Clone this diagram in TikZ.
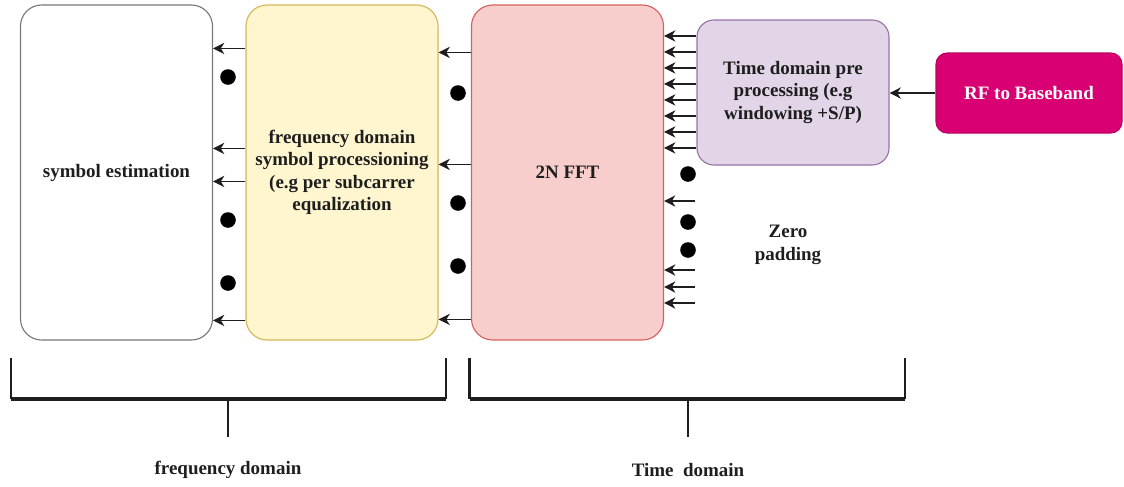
\documentclass[tikz,border=0pt]{standalone}
\usepackage{fontspec}
\setmainfont{Liberation Serif}
\usepackage{xcolor}
\definecolor{gray-600}{RGB}{120,120,120}
\definecolor{text-dark}{RGB}{30,30,30}
\definecolor{yellow-light}{RGB}{255,246,208}
\definecolor{yellow-base}{RGB}{214,182,86}
\definecolor{red-light}{RGB}{248,206,204}
\definecolor{red-base}{RGB}{214,96,92}
\definecolor{purple-light}{RGB}{225,213,231}
\definecolor{purple-base}{RGB}{150,115,166}
\definecolor{rf-base}{RGB}{216,0,115}
\definecolor{rf-dark}{RGB}{190,0,95}
\usepackage{tikz}
\usetikzlibrary{arrows.meta}

\begin{document}
\begin{tikzpicture}[
    block/.style={
        rounded corners=15pt,
        line width=0.8pt,
        minimum width=4.8cm,
        minimum height=8.375cm,
        font=\fontsize{13.5}{16}\selectfont\bfseries,
        text=text-dark,
        align=center
    },
    small block/.style={
        block,
        rounded corners=12pt,
        minimum height=3.625cm
    },
    sig/.style={
        -{Stealth[length=8pt,width=8pt,inset=2.5pt]},
        line width=1.1pt,
        text-dark
    },
    dot/.style={
        circle,
        fill=black,
        minimum size=0.39cm,
        inner sep=0pt
    },
    bracket/.style={line width=1.5pt, text-dark},
    bracket base/.style={line width=2.4pt, text-dark},
    domain label/.style={
        font=\fontsize{13.5}{16}\selectfont\bfseries,
        text=text-dark
    }
]

\useasboundingbox (0,0) rectangle (28.1,-12.175);

% Processing chain (right to left)
\node[block, draw=gray-600, fill=white] (symb) at (2.9125,-4.3125) {symbol estimation};
\node[block, draw=yellow-base, fill=yellow-light] (freq) at (8.55,-4.3125) {frequency domain\\symbol processioning\\(e.g per subcarrer\\equalization};
\node[block, draw=red-base, fill=red-light] (fft) at (14.1875,-4.3125) {2N FFT};
\node[small block, draw=purple-base, fill=purple-light] (pre) at (19.825,-2.3125) {Time domain pre\\processing (e.g\\windowing +S/P)};
\node[block, rounded corners=8pt, draw=rf-dark, fill=rf-base, text=white, minimum width=4.65cm, minimum height=2cm] (rf) at (25.725,-2.325) {RF to Baseband};

% RF to pre processing
\draw[sig] (rf.west) -- (pre.east |- rf.west);

% Pre processing to FFT (parallel lines)
\foreach \i in {0,...,7} {
    \coordinate (p\i) at ([yshift={-(0.4125+0.4*\i)*1cm}]pre.north west);
    \draw[sig] (p\i) -- (fft.east |- p\i);
}

% Zero padding inputs
\coordinate (zp1) at (17.375,-5.025);
\coordinate (zp2) at (17.375,-6.75);
\coordinate (zp3) at (17.375,-7.175);
\coordinate (zp4) at (17.375,-7.575);
\foreach \z in {zp1,zp2,zp3,zp4}
    \draw[sig] (\z) -- (fft.east |- \z);
\node[dot] (zd1) at (17.2,-4.35) {};
\node[dot] (zd2) at (17.2,-5.55) {};
\node[dot] (zd3) at (17.2,-6.25) {};
\node[domain label, align=center] (zero) at (19.7,-6.125) {Zero\\padding};

% FFT to frequency domain processing
\foreach \y [count=\i] in {1.2,4.0,7.875} {
    \coordinate (t\i) at ([yshift=-\y cm]fft.north west);
    \draw[sig] (t\i) -- (freq.east |- t\i);
}
\node[dot] (td1) at (11.45,-2.325) {};
\node[dot] (td2) at (11.45,-5.075) {};
\node[dot] (td3) at (11.45,-6.65) {};

% Frequency domain processing to symbol estimation
\foreach \y [count=\i] in {1.1,3.6,4.425,7.9} {
    \coordinate (f\i) at ([yshift=-\y cm]freq.north west);
    \draw[sig] (f\i) -- (symb.east |- f\i);
}
\node[dot] (fd1) at (5.7,-1.925) {};
\node[dot] (fd2) at (5.7,-5.5) {};
\node[dot] (fd3) at (5.7,-7.075) {};

% Domain brackets
\draw[bracket] (0.2675,-8.95) -- (0.2675,-9.975);
\draw[bracket] (11.15,-8.95) -- (11.15,-9.975);
\draw[bracket base] (0.2675,-9.975) -- (11.15,-9.975);
\coordinate (fstem) at (5.7,-10.925);
\draw[bracket] (5.7,-9.975) -- (fstem);

\draw[bracket] (11.7375,-8.95) -- (11.7375,-9.975);
\draw[bracket] (22.6175,-8.95) -- (22.6175,-9.975);
\draw[bracket base] (11.7375,-9.975) -- (22.6175,-9.975);
\coordinate (tstem) at (17.2,-10.925);
\draw[bracket] (17.2,-9.975) -- (tstem);

\node[domain label] (flabel) at (5.7,-11.75) {frequency domain};
\node[domain label] (tlabel) at (17.2,-11.75) {Time~~domain};

\end{tikzpicture}
\end{document}
